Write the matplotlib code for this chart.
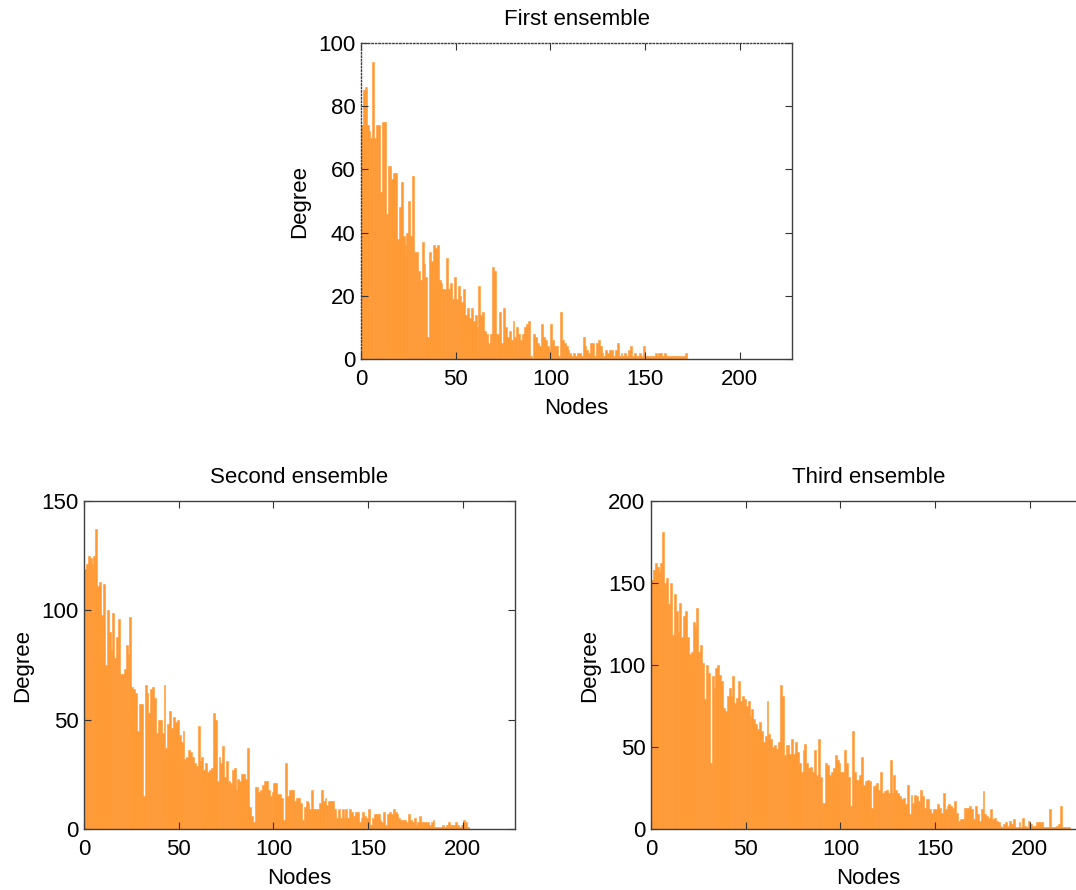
import numpy as np
import matplotlib
matplotlib.use('Agg')
import matplotlib.pyplot as plt

plt.rcParams['font.family'] = ['Liberation Sans', 'DejaVu Sans']

# degree of each node
first_deg = [74, 85, 86, 74, 72, 70, 94, 70, 74, 74, 53, 75, 75, 46, 61, 61, 57, 59, 59, 38,
             48, 56, 39, 36, 40, 50, 39, 58, 34, 34, 28, 25, 37, 30, 26, 7, 34, 31, 36, 35,
             36, 25, 24, 22, 22, 32, 22, 24, 19, 26, 19, 23, 20, 18, 22, 14, 16, 13, 16, 12,
             14, 10, 23, 14, 15, 9, 8, 5, 8, 29, 28, 8, 8, 15, 5, 16, 10, 7, 9, 6,
             12, 7, 10, 8, 6, 8, 10, 11, 12, 1, 0, 8, 7, 5, 4, 11, 7, 6, 4, 3,
             11, 6, 4, 4, 1, 15, 6, 5, 4, 3, 2, 1, 2, 1, 2, 2, 1, 7, 4, 3,
             2, 5, 5, 1, 5, 6, 4, 2, 1, 3, 2, 3, 3, 1, 3, 5, 1, 2, 1, 2,
             1, 3, 4, 1, 2, 1, 1, 2, 1, 4, 1, 1, 1, 1, 1, 2, 1, 2, 2, 1,
             2, 1, 1, 1, 1, 1, 1, 1, 1, 1, 1, 2]

second_deg = [119, 121, 125, 124, 121, 125, 137, 111, 113, 98, 112, 75, 100, 90, 82, 99, 78, 88, 96, 71,
              71, 73, 84, 80, 97, 65, 64, 62, 45, 57, 57, 15, 66, 62, 53, 64, 65, 60, 44, 50,
              50, 44, 66, 37, 48, 54, 46, 51, 49, 50, 43, 40, 45, 32, 33, 36, 35, 33, 30, 29,
              47, 31, 33, 27, 30, 26, 27, 28, 53, 50, 22, 33, 30, 38, 24, 31, 22, 21, 27, 28,
              18, 23, 22, 25, 25, 23, 37, 10, 6, 3, 19, 19, 17, 18, 20, 22, 22, 18, 15, 17,
              21, 21, 16, 16, 14, 4, 30, 15, 18, 18, 18, 13, 14, 14, 12, 4, 10, 13, 12, 9,
              18, 9, 9, 9, 12, 18, 13, 14, 11, 13, 13, 13, 9, 5, 9, 5, 9, 5, 9, 5,
              9, 8, 6, 8, 8, 3, 5, 8, 6, 5, 9, 2, 5, 7, 7, 7, 4, 3, 8, 2,
              7, 8, 7, 9, 8, 7, 5, 4, 4, 4, 3, 7, 4, 3, 5, 2, 3, 6, 3, 3,
              3, 3, 2, 3, 4, 1, 1, 1, 1, 2, 1, 2, 3, 2, 2, 2, 3, 2, 1, 2,
              4, 3, 1]

third_deg = [152, 158, 162, 160, 157, 162, 181, 150, 153, 137, 150, 118, 143, 133, 120, 138, 117, 130, 133, 117,
             107, 108, 126, 123, 135, 108, 112, 101, 79, 100, 95, 40, 93, 86, 98, 100, 94, 90, 74, 72,
             81, 86, 81, 93, 77, 80, 90, 78, 81, 79, 75, 78, 69, 73, 67, 64, 61, 65, 60, 53,
             57, 78, 58, 55, 50, 51, 49, 53, 88, 81, 45, 51, 51, 46, 55, 46, 53, 47, 40, 35,
             48, 52, 40, 37, 38, 35, 48, 33, 55, 32, 16, 16, 40, 39, 33, 35, 37, 45, 42, 40,
             35, 35, 48, 40, 32, 14, 60, 35, 30, 30, 33, 44, 27, 29, 30, 29, 13, 26, 27, 28,
             24, 35, 22, 23, 24, 22, 42, 22, 33, 24, 22, 20, 18, 19, 15, 27, 9, 21, 16, 21,
             20, 17, 24, 20, 13, 18, 18, 12, 10, 12, 12, 15, 13, 10, 22, 12, 14, 15, 14, 13,
             17, 10, 5, 6, 6, 13, 13, 13, 14, 12, 6, 14, 9, 5, 12, 23, 9, 8, 7, 12,
             6, 7, 5, 4, 2, 1, 3, 4, 2, 5, 3, 6, 1, 1, 4, 1, 7, 2, 1, 5,
             3, 2, 2, 4, 4, 4, 4, 1, 1, 1, 12, 1, 1, 1, 2, 3, 14, 1, 1, 1,
             1]

titles = ['First ensemble', 'Second ensemble', 'Third ensemble']
yticks = [[0, 20, 40, 60, 80, 100], [0, 50, 100, 150], [0, 50, 100, 150, 200]]
xticks = [0, 50, 100, 150, 200]

W, H = 1076, 890
fig = plt.figure(figsize=(W / 100, H / 100), dpi=100)

# axes boxes in pixels: left, top, right, bottom
boxes = [(361, 43, 792, 359), (84, 501, 515, 829), (651, 501, 1086, 829)]
data = [first_deg, second_deg, third_deg]

for i in range(3):
    l, t, r, b = boxes[i]
    ax = fig.add_axes([l / W, 1 - b / H, (r - l) / W, (b - t) / H])
    deg = data[i]
    x = np.arange(len(deg))
    ax.bar(x, deg, width=1.0, align='edge', color='#FF9933', edgecolor='#FF9933', linewidth=0.4)
    ax.set_xlim(0, 227.5 * (r - l) / 431)
    ax.set_ylim(yticks[i][0], yticks[i][-1])
    ax.set_xticks(xticks)
    ax.set_yticks(yticks[i])
    ax.tick_params(direction='in', top=True, right=True, labelsize=16, length=5,
                   width=0.8, color='#333333')
    ax.tick_params(axis='x', pad=7)
    ax.tick_params(axis='y', pad=4)
    for s in ax.spines.values():
        s.set_color('#404040')
        s.set_linewidth(1.0)
    if i == 0:
        ax.spines['left'].set_linestyle((0, (1, 1.5)))
        ax.spines['top'].set_linestyle((0, (1, 1.5)))
    ax.set_title(titles[i], fontsize=16, pad=13)
    ax.set_xlabel('Nodes', fontsize=16, labelpad=6)
    ax.set_ylabel('Degree', fontsize=16, labelpad=6)

fig.savefig('out.png', dpi=100)
